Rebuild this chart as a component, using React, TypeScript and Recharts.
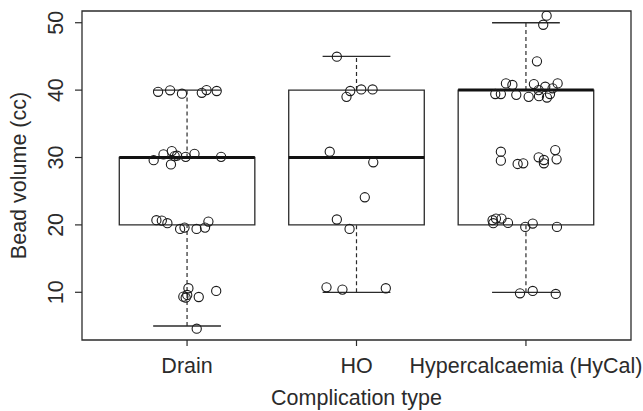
import {
  ComposedChart,
  Scatter,
  XAxis,
  YAxis,
  ReferenceArea,
  ReferenceLine,
  Label,
} from 'recharts'

const categories = ['Drain', 'HO', 'Hypercalcaemia (HyCal)']

// box statistics per category
const q1 = [20, 20, 20]
const median = [30, 30, 40]
const q3 = [30, 40, 40]
const whiskerLow = [5, 10, 10]
const whiskerHigh = [40, 45, 50]

// jittered observations (value, horizontal jitter in category units)
const drainValues = [
  39.75, 39.97, 39.47, 39.6, 40.0, 39.87,
  29.6, 30.46, 30.96, 30.2, 30.27, 28.97, 30.1, 30.55, 30.1,
  20.7, 20.64, 20.25, 19.4, 19.6, 19.4, 19.6, 20.5,
  10.6, 9.35, 9.2, 9.6, 9.3, 10.2,
  4.6,
]
const drainJitter = [
  -0.171, -0.1, -0.03, 0.087, 0.115, 0.175,
  -0.197, -0.139, -0.09, -0.073, -0.059, -0.095, -0.008, 0.044, 0.201,
  -0.181, -0.149, -0.116, -0.041, -0.015, 0.056, 0.106, 0.126,
  0.008, -0.022, -0.008, 0.001, 0.069, 0.172,
  0.057,
]

const hoValues = [44.96, 39.87, 39.0, 40.1, 40.1, 30.86, 29.29, 24.1, 20.8, 19.4, 10.74, 10.4, 10.6]
const hoJitter = [-0.116, -0.037, -0.059, 0.028, 0.095, -0.158, 0.099, 0.049, -0.116, -0.041, -0.177, -0.083, 0.173]

const hycalValues = [
  51.04, 49.7, 44.27,
  41.0, 40.76, 40.9, 40.5, 41.0, 40.27, 40.0,
  39.42, 39.42, 39.3, 39.0, 39.1, 38.9, 39.42,
  30.86, 29.53, 29.04, 29.14, 30.03, 29.63, 29.14, 31.1, 29.73,
  20.7, 20.25, 20.94, 20.94, 20.3, 19.7, 20.2, 19.7,
  9.85, 10.2, 9.75,
]
const hycalJitter = [
  0.122, 0.102, 0.065,
  -0.118, -0.08, 0.047, 0.114, 0.187, 0.157, 0.075,
  -0.181, -0.148, -0.057, 0.016, 0.077, 0.124, 0.142,
  -0.148, -0.148, -0.049, -0.016, 0.075, 0.106, 0.106, 0.173, 0.181,
  -0.197, -0.193, -0.177, -0.144, -0.106, -0.004, 0.04, 0.183,
  -0.035, 0.04, 0.176,
]

const yTicks = [10, 20, 30, 40, 50]

const groups = [
  { values: drainValues, jitter: drainJitter },
  { values: hoValues, jitter: hoJitter },
  { values: hycalValues, jitter: hycalJitter },
]

const points = groups.flatMap((g, i) =>
  g.values.map((v, j) => ({ x: i + 1 + g.jitter[j], y: v }))
)

const X_DOMAIN: [number, number] = [0.38, 3.62]
const Y_DOMAIN: [number, number] = [2.92, 51.74]
const INK = '#2b2b2b'
const FONT = '"Liberation Sans", Arial, Helvetica, sans-serif'
const FS = 21.5

const Circle = (props: any) => {
  const { cx, cy } = props
  if (cx == null || cy == null) return null
  return <circle cx={cx} cy={cy} r={4.6} fill="none" stroke="#1a1a1a" strokeWidth={1.1} />
}

const YTick = ({ x, y, payload }: any) => (
  <text
    x={x}
    y={y}
    transform={`rotate(-90, ${x}, ${y})`}
    textAnchor="middle"
    fill={INK}
    fontSize={FS}
    fontFamily={FONT}
  >
    {payload.value}
  </text>
)

const XTick = ({ x, y, payload }: any) => (
  <text x={x} y={y} dy={27} textAnchor="middle" fill={INK} fontSize={FS} fontFamily={FONT}>
    {categories[payload.value - 1]}
  </text>
)

export default function App() {
  return (
    <div style={{ position: 'absolute', left: 0, top: 0, background: '#fff' }}>
      <ComposedChart
        width={643}
        height={411}
        data={points}
        margin={{ top: 11, right: 12, bottom: 0, left: 0 }}
      >
        <XAxis
          type="number"
          dataKey="x"
          domain={X_DOMAIN}
          ticks={[1, 2, 3]}
          allowDataOverflow
          axisLine={false}
          tickLine={{ stroke: INK, strokeWidth: 1.2 }}
          tickSize={6}
          tickMargin={0}
          tick={<XTick />}
          height={71}
        >
          <Label
            content={({ viewBox }: any) => (
              <text
                x={viewBox.x + viewBox.width / 2}
                y={viewBox.y + 64.5}
                textAnchor="middle"
                fill={INK}
                fontSize={FS}
                fontFamily={FONT}
              >
                Complication type
              </text>
            )}
          />
        </XAxis>
        <YAxis
          type="number"
          dataKey="y"
          domain={Y_DOMAIN}
          ticks={yTicks}
          allowDataOverflow
          axisLine={false}
          tickLine={{ stroke: INK, strokeWidth: 1.2 }}
          tickSize={7}
          tickMargin={12}
          tick={<YTick />}
          width={82}
        >
          <Label
            content={({ viewBox }: any) => {
              const cx = 26
              const cy = viewBox.y + viewBox.height / 2
              return (
                <text
                  x={cx}
                  y={cy}
                  transform={`rotate(-90, ${cx}, ${cy})`}
                  textAnchor="middle"
                  fill={INK}
                  fontSize={FS}
                  fontFamily={FONT}
                >
                  Bead volume (cc)
                </text>
              )
            }}
          />
        </YAxis>

        {/* plot frame */}
        <ReferenceArea
          x1={X_DOMAIN[0]}
          x2={X_DOMAIN[1]}
          y1={Y_DOMAIN[0]}
          y2={Y_DOMAIN[1]}
          fill="none"
          fillOpacity={0}
          stroke={INK}
          strokeWidth={1.3}
          ifOverflow="visible"
        />

        {categories.map((c, i) => {
          const pos = i + 1
          return [
            <ReferenceLine
              key={`wu-${c}`}
              segment={[{ x: pos, y: q3[i] }, { x: pos, y: whiskerHigh[i] }]}
              stroke={INK}
              strokeWidth={1.2}
              strokeDasharray="4 3"
            />,
            <ReferenceLine
              key={`wl-${c}`}
              segment={[{ x: pos, y: whiskerLow[i] }, { x: pos, y: q1[i] }]}
              stroke={INK}
              strokeWidth={1.2}
              strokeDasharray="4 3"
            />,
            <ReferenceLine
              key={`cu-${c}`}
              segment={[{ x: pos - 0.2, y: whiskerHigh[i] }, { x: pos + 0.2, y: whiskerHigh[i] }]}
              stroke={INK}
              strokeWidth={1.3}
            />,
            <ReferenceLine
              key={`cl-${c}`}
              segment={[{ x: pos - 0.2, y: whiskerLow[i] }, { x: pos + 0.2, y: whiskerLow[i] }]}
              stroke={INK}
              strokeWidth={1.3}
            />,
            <ReferenceArea
              key={`box-${c}`}
              x1={pos - 0.4}
              x2={pos + 0.4}
              y1={q1[i]}
              y2={q3[i]}
              fill="none"
              fillOpacity={0}
              stroke={INK}
              strokeWidth={1.3}
            />,
            <ReferenceLine
              key={`md-${c}`}
              segment={[{ x: pos - 0.4, y: median[i] }, { x: pos + 0.4, y: median[i] }]}
              stroke="#111"
              strokeWidth={3}
            />,
          ]
        })}

        <Scatter data={points} dataKey="y" shape={<Circle />} isAnimationActive={false} />
      </ComposedChart>
    </div>
  )
}
